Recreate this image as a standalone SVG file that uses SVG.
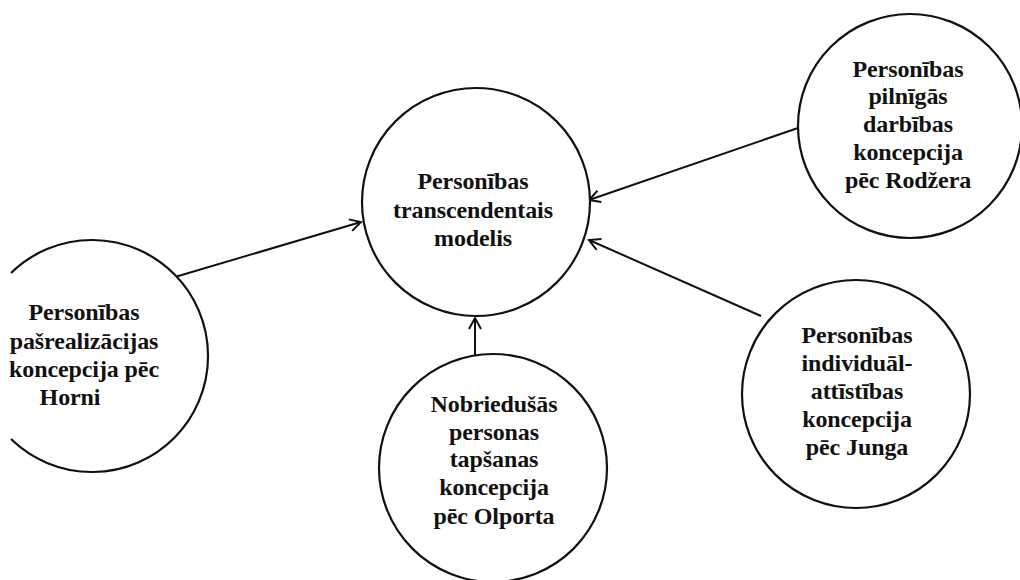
<svg xmlns="http://www.w3.org/2000/svg" width="1020" height="580" viewBox="0 0 1020 580">
<style>
.node{fill:#fff;stroke:#111;stroke-width:2.2}
.lbl{font-family:"Liberation Serif","Times New Roman",serif;font-weight:bold;font-size:24px;fill:#111;text-anchor:middle;letter-spacing:-0.1px}
.edge{stroke:#111;stroke-width:2;fill:none}
</style>
<defs>
<marker id="arr" markerUnits="userSpaceOnUse" markerWidth="16" markerHeight="16" viewBox="-13 -8 16 16" refX="0" refY="0" orient="auto">
<path d="M-11,-6 L0,0 L-11,6" fill="none" stroke="#111" stroke-width="2"/>
</marker>
</defs>
<rect width="1020" height="580" fill="#fff"/>
<g id="connectors">
<line class="edge" x1="175" y1="277" x2="361" y2="222" marker-end="url(#arr)"/>
<line class="edge" x1="798" y1="128" x2="589" y2="200" marker-end="url(#arr)"/>
<line class="edge" x1="761" y1="316" x2="589" y2="240" marker-end="url(#arr)"/>
<line class="edge" x1="475" y1="355" x2="475" y2="318" marker-end="url(#arr)"/>
</g>
<g id="center">
<circle class="node" cx="476" cy="202" r="114"/>
<text class="lbl" x="473" y="189">Personības</text>
<text class="lbl" x="473" y="218">transcendentais</text>
<text class="lbl" x="473" y="246">modelis</text>
</g>
<g id="rodzers">
<circle class="node" cx="910" cy="126" r="112"/>
<text class="lbl" x="908" y="77">Personības</text>
<text class="lbl" x="908" y="104">pilnīgās</text>
<text class="lbl" x="908" y="132">darbības</text>
<text class="lbl" x="908" y="160">koncepcija</text>
<text class="lbl" x="908" y="188">pēc Rodžera</text>
</g>
<g id="horni">
<path class="node" d="M11,273 A116,116 0 1 1 11,439"/>
<text class="lbl" x="84" y="320">Personības</text>
<text class="lbl" x="84" y="349">pašrealizācijas</text>
<text class="lbl" x="84" y="377">koncepcija pēc</text>
<text class="lbl" x="70" y="405">Horni</text>
</g>
<g id="olports">
<circle class="node" cx="493" cy="468" r="114"/>
<text class="lbl" x="494" y="412">Nobriedušās</text>
<text class="lbl" x="494" y="440">personas</text>
<text class="lbl" x="494" y="467">tapšanas</text>
<text class="lbl" x="494" y="495">koncepcija</text>
<text class="lbl" x="494" y="524">pēc Olporta</text>
</g>
<g id="jungs">
<circle class="node" cx="856" cy="394" r="114"/>
<text class="lbl" x="857" y="343">Personības</text>
<text class="lbl" x="857" y="371">individuāl-</text>
<text class="lbl" x="857" y="399">attīstības</text>
<text class="lbl" x="857" y="427">koncepcija</text>
<text class="lbl" x="857" y="455">pēc Junga</text>
</g>
</svg>
